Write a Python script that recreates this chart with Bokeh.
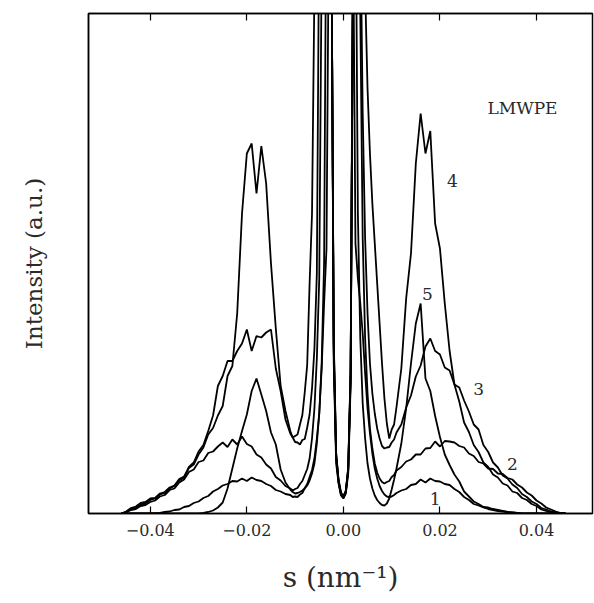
import numpy as np
from bokeh.plotting import figure
from bokeh.models import LinearAxis, FixedTicker, Label, ColumnDataSource
from bokeh.embed import file_html
from bokeh.resources import INLINE

# scattering vector s, in units of 1e-3 nm^-1
s_left = [-46, -45, -44, -43, -42, -41, -40, -39, -38, -37, -36, -35, -34, -33, -32, -31, -30,
          -29, -28, -27, -26, -25, -24, -23, -22, -21, -20, -19, -18, -17, -16, -15, -14, -13, -12]
s_mid = [-11, -10.5, -10, -9.5, -9, -8.5, -8, -7.5, -7, -6.5, -6, -5.5, -5, -4.5, -4, -3.5, -3,
         -2.5, -2, -1.5, -1, -0.5, 0, 0.5, 1, 1.5, 2, 2.5, 3, 3.5, 4, 4.5, 5, 5.5, 6, 6.5, 7,
         7.5, 8, 8.5, 9, 9.5, 10, 10.5, 11]
s_right = [12, 13, 14, 15, 16, 17, 18, 19, 20, 21, 22, 23, 24, 25, 26, 27, 28, 29, 30, 31, 32,
           33, 34, 35, 36, 37, 38, 39, 40, 41, 42, 43, 44, 45, 46]

# intensities (a.u.), values above 1 are off-scale
c1_left = [0, 0, 0, 0, 0, 0, 0, 0.0005, 0.001, 0.003, 0.004, 0.007, 0.008, 0.013, 0.015, 0.021,
           0.024, 0.031, 0.035, 0.044, 0.049, 0.056, 0.059, 0.065, 0.064, 0.07, 0.065, 0.072,
           0.067, 0.065, 0.059, 0.055, 0.047, 0.044, 0.039]
c1_mid = [0.037, 0.033, 0.034, 0.033, 0.038, 0.041, 0.051, 0.059, 0.073, 0.087, 0.11, 0.15, 0.2,
          0.29, 0.42, 0.53, 1.2, 1.2, 0.3, 0.1, 0.06, 0.036, 0.03, 0.04, 0.08, 0.26, 1.2,
          0.54, 0.47, 0.42, 0.36, 0.28, 0.21, 0.16, 0.12, 0.09, 0.07, 0.055, 0.045, 0.038,
          0.034, 0.033, 0.034, 0.037, 0.041]
c1_right = [0.046, 0.049, 0.057, 0.059, 0.068, 0.062, 0.07, 0.065, 0.064, 0.059, 0.057, 0.049,
            0.043, 0.033, 0.027, 0.019, 0.016, 0.012, 0.009, 0.007, 0.005, 0.004, 0.003, 0.002,
            0.001, 0, 0, 0, 0, 0, 0, 0, 0, 0, 0]

c2_left = [0, 0.002, 0.007, 0.009, 0.015, 0.017, 0.023, 0.026, 0.034, 0.037, 0.047, 0.05, 0.062,
           0.068, 0.083, 0.088, 0.103, 0.106, 0.121, 0.124, 0.134, 0.142, 0.133, 0.148, 0.138,
           0.154, 0.139, 0.134, 0.118, 0.112, 0.098, 0.09, 0.073, 0.066, 0.055]
c2_mid = [0.05, 0.046, 0.049, 0.051, 0.059, 0.065, 0.077, 0.089, 0.11, 0.15, 0.21, 0.31, 0.47,
          1.1, 1.5, 1.5, 1.5, 1.2, 0.32, 0.11, 0.062, 0.038, 0.032, 0.042, 0.085, 0.27, 1.1,
          1.5, 1.3, 1.0, 0.55, 0.35, 0.24, 0.17, 0.13, 0.1, 0.082, 0.07, 0.063, 0.06, 0.063,
          0.065, 0.073, 0.077, 0.086]
c2_right = [0.093, 0.104, 0.108, 0.118, 0.118, 0.13, 0.131, 0.144, 0.134, 0.145, 0.144, 0.142,
            0.135, 0.132, 0.12, 0.115, 0.103, 0.1, 0.09, 0.089, 0.08, 0.079, 0.071, 0.068,
            0.058, 0.052, 0.042, 0.036, 0.026, 0.02, 0.012, 0.008, 0.004, 0.001, 0]

c3_left = [0, 0.003, 0.009, 0.012, 0.018, 0.02, 0.027, 0.03, 0.038, 0.041, 0.05, 0.055,
           0.066, 0.072, 0.093, 0.102, 0.124, 0.137, 0.165, 0.196, 0.255, 0.275, 0.305, 0.305,
           0.325, 0.34, 0.368, 0.325, 0.355, 0.352, 0.362, 0.368, 0.29, 0.245, 0.188]
c3_mid = [0.16, 0.152, 0.143, 0.142, 0.138, 0.147, 0.149, 0.172, 0.198, 0.25, 0.33, 0.48, 1.2,
          1.5, 1.5, 1.5, 1.5, 1.2, 0.34, 0.12, 0.065, 0.04, 0.033, 0.044, 0.09, 0.28, 1.1, 1.5,
          1.5, 1.2, 0.8, 0.55, 0.4, 0.3, 0.24, 0.2, 0.17, 0.15, 0.135, 0.13, 0.132, 0.133,
          0.142, 0.148, 0.162]
c3_right = [0.178, 0.212, 0.236, 0.274, 0.296, 0.334, 0.35, 0.325, 0.318, 0.292, 0.286, 0.258,
            0.252, 0.226, 0.204, 0.178, 0.168, 0.137, 0.123, 0.102, 0.092, 0.076, 0.07, 0.058,
            0.051, 0.039, 0.033, 0.024, 0.019, 0.011, 0.008, 0.004, 0.002, 0, 0]

c4_left = [0, 0.004, 0.011, 0.014, 0.021, 0.023, 0.03, 0.031, 0.04, 0.043, 0.052, 0.056, 0.069,
           0.074, 0.091, 0.098, 0.118, 0.132, 0.158, 0.171, 0.196, 0.215, 0.275, 0.295, 0.4,
           0.6, 0.72, 0.74, 0.64, 0.735, 0.66, 0.5, 0.37, 0.255, 0.205]
c4_mid = [0.165, 0.152, 0.155, 0.158, 0.178, 0.197, 0.243, 0.297, 0.46, 0.6, 1.05, 1.5, 1.5,
          1.5, 1.5, 1.5, 1.5, 1.2, 0.35, 0.12, 0.068, 0.042, 0.035, 0.046, 0.092, 0.29, 1.1,
          1.5, 1.5, 1.5, 1.5, 1.05, 0.85, 0.72, 0.62, 0.54, 0.46, 0.38, 0.3, 0.23, 0.18, 0.15,
          0.168, 0.178, 0.213]
c4_right = [0.29, 0.43, 0.52, 0.7, 0.8, 0.72, 0.765, 0.58, 0.53, 0.42, 0.325, 0.258, 0.224,
            0.182, 0.163, 0.137, 0.123, 0.102, 0.093, 0.078, 0.072, 0.06, 0.056, 0.044, 0.041,
            0.031, 0.027, 0.019, 0.015, 0.008, 0.005, 0.002, 0, 0, 0]

c5_left = [0, 0, 0, 0, 0, 0, 0, 0, 0, 0, 0, 0, 0, 0, 0, 0, 0, 0.001, 0.003, 0.006, 0.012,
           0.022, 0.05, 0.09, 0.13, 0.165, 0.198, 0.245, 0.27, 0.238, 0.205, 0.162, 0.138,
           0.088, 0.062]
c5_mid = [0.048, 0.043, 0.04, 0.041, 0.043, 0.046, 0.05, 0.056, 0.066, 0.08, 0.1, 0.14, 0.2,
          0.3, 0.5, 1.3, 1.5, 1.2, 0.33, 0.115, 0.064, 0.04, 0.034, 0.045, 0.088, 0.28, 1.1,
          1.3, 0.6, 0.35, 0.22, 0.15, 0.1, 0.07, 0.05, 0.036, 0.027, 0.021, 0.017, 0.016,
          0.02, 0.03, 0.048, 0.068, 0.09]
c5_right = [0.14, 0.21, 0.3, 0.38, 0.42, 0.27, 0.245, 0.195, 0.153, 0.118, 0.097, 0.078, 0.064,
            0.044, 0.034, 0.024, 0.019, 0.013, 0.012, 0.009, 0.007, 0.005, 0.003, 0.002, 0.001,
            0, 0, 0, 0, 0, 0, 0, 0, 0, 0]

x_ticks = [-0.04, -0.02, 0.0, 0.02, 0.04]
x_tick_labels = ["\u22120.04", "\u22120.02", "0.00", "0.02", "0.04"]

curve_labels = ["1", "2", "3", "4", "5", "LMWPE"]
label_s = [0.019, 0.035, 0.028, 0.0226, 0.0174, 0.0371]
label_h = [0.03, 0.10, 0.25, 0.666, 0.44, 0.812]

s = np.array(s_left + s_mid + s_right) * 1e-3
curves = {
    "1": c1_left + c1_mid + c1_right,
    "2": c2_left + c2_mid + c2_right,
    "3": c3_left + c3_mid + c3_right,
    "4": c4_left + c4_mid + c4_right,
    "5": c5_left + c5_mid + c5_right,
}

FONT = "DejaVu Serif"
TXT = "#2a2a2a"

p = figure(width=594, height=603, x_range=(-0.0528, 0.0516), y_range=(0, 1),
           output_backend="svg", toolbar_location=None,
           min_border_left=88, min_border_right=2, min_border_top=13, min_border_bottom=90,
           x_axis_label="s (nm\u207b\u00b9)", y_axis_label="Intensity (a.u.)")
p.grid.visible = False
p.outline_line_color = "black"
p.outline_line_width = 1.5
p.background_fill_color = "white"
p.border_fill_color = "white"

for key, vals in curves.items():
    src = ColumnDataSource(dict(s=s, h=np.array(vals)))
    p.line("s", "h", source=src, line_color="black", line_width=1.8)

xa = p.xaxis[0]
xa.ticker = FixedTicker(ticks=x_ticks)
xa.major_label_overrides = {t: l for t, l in zip(x_ticks, x_tick_labels)}
xa.major_tick_in = 7
xa.major_tick_out = 0
xa.minor_tick_line_color = None
xa.axis_line_width = 1.5
xa.major_tick_line_width = 1.2
xa.major_label_standoff = 10
xa.major_label_text_font = FONT
xa.major_label_text_font_size = "16px"
xa.major_label_text_color = TXT
xa.axis_label_text_font = FONT
xa.axis_label_text_font_size = "28px"
xa.axis_label_text_font_style = "normal"
xa.axis_label_text_color = TXT
xa.axis_label_standoff = 22

ya = p.yaxis[0]
ya.ticker = FixedTicker(ticks=[])
ya.major_tick_line_color = None
ya.minor_tick_line_color = None
ya.major_label_standoff = 0
ya.axis_line_width = 1.5
ya.axis_label_text_font = FONT
ya.axis_label_text_font_size = "23px"
ya.axis_label_text_font_style = "normal"
ya.axis_label_text_color = TXT
ya.axis_label_standoff = 42

top = LinearAxis(ticker=FixedTicker(ticks=x_ticks), major_tick_in=7, major_tick_out=0,
                 minor_tick_line_color=None, major_label_text_color=None,
                 major_label_text_font_size="0px",
                 major_label_standoff=0, axis_line_width=1.5, major_tick_line_width=1.2)
p.add_layout(top, "above")

for txt, xs, yh in zip(curve_labels, label_s, label_h):
    p.add_layout(Label(x=xs, y=yh, text=txt, text_font=FONT, text_font_size="17px",
                       text_color=TXT, text_align="center", text_baseline="middle"))

open("out.html", "w").write(file_html(p, INLINE))
